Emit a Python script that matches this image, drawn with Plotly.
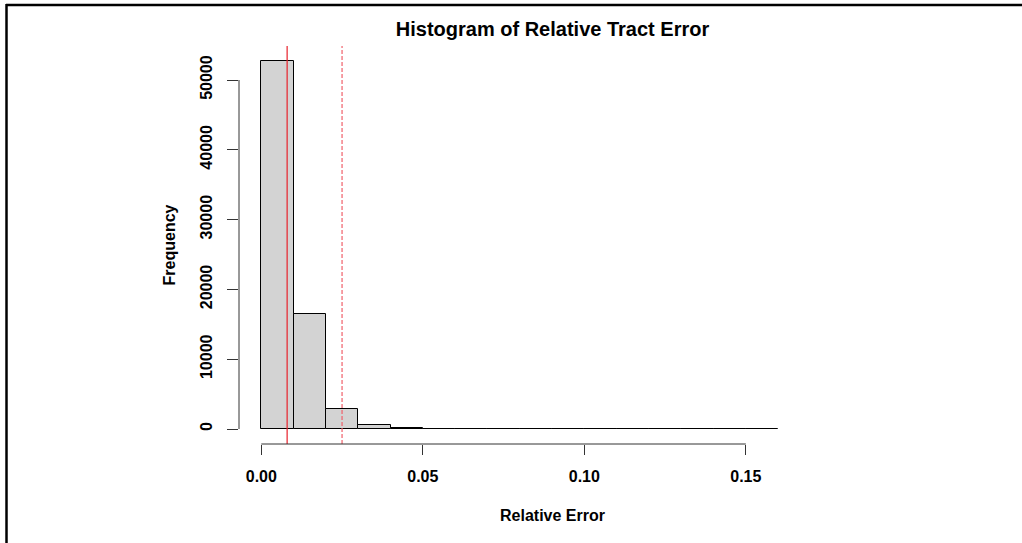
import plotly.graph_objects as go

# ---- data ----
breaks = [round(i * 0.01, 2) for i in range(17)]          # 0.00 .. 0.16
counts = [52720, 16430, 2865, 575, 150, 48, 18, 8, 4, 3, 2, 1, 1, 1, 1, 1]
x_ticks = [0.00, 0.05, 0.10, 0.15]
x_tick_labels = ["0.00", "0.05", "0.10", "0.15"]
y_ticks = [0, 10000, 20000, 30000, 40000, 50000]
y_tick_labels = ["0", "10000", "20000", "30000", "40000", "50000"]
mean_line = 0.008
dashed_line = 0.025

title = "Histogram of Relative Tract Error"
xlab = "Relative Error"
ylab = "Frequency"

# ---- layout constants ----
W, H = 1022, 543
L, R, T, B = 239, 156, 46, 99
pw, ph = W - L - R, H - T - B

centers = [(breaks[i] + breaks[i + 1]) / 2 for i in range(len(counts))]
widths = [breaks[i + 1] - breaks[i] for i in range(len(counts))]

font = dict(family="Liberation Sans, Arial, sans-serif", color="black", weight="bold")

fig = go.Figure()
fig.add_trace(go.Bar(
    x=centers, y=counts, width=widths,
    marker=dict(color="#D3D3D3", line=dict(color="black", width=1)),
    hoverinfo="x+y",
))

shapes = []
# vertical reference lines
shapes.append(dict(type="line", xref="x", yref="paper", x0=mean_line, x1=mean_line,
                   y0=0, y1=1, line=dict(color="#E8202A", width=1.2)))
shapes.append(dict(type="line", xref="x", yref="paper", x0=dashed_line, x1=dashed_line,
                   y0=0, y1=1, line=dict(color="#F0606A", width=1.2, dash="4px,2px")))
# R style axis lines spanning tick range
shapes.append(dict(type="line", xref="x", yref="paper", x0=x_ticks[0], x1=x_ticks[-1],
                   y0=0, y1=0, line=dict(color="#333333", width=1)))
shapes.append(dict(type="line", xref="paper", yref="y", x0=0, x1=0,
                   y0=y_ticks[0], y1=y_ticks[-1], line=dict(color="#333333", width=1)))
# outer frame (top and left edges of the screenshot)
px2x = lambda px: (px - L) / pw
py2y = lambda py: (H - B - py) / ph
shapes.append(dict(type="line", xref="paper", yref="paper", x0=px2x(6), x1=px2x(W + 2),
                   y0=py2y(5), y1=py2y(5), line=dict(color="black", width=2.5)))
shapes.append(dict(type="line", xref="paper", yref="paper", x0=px2x(6.5), x1=px2x(6.5),
                   y0=py2y(4), y1=py2y(H + 2), line=dict(color="black", width=2.5)))

fig.update_layout(
    width=W, height=H,
    margin=dict(l=L, r=R, t=T, b=B),
    paper_bgcolor="white", plot_bgcolor="white",
    showlegend=False,
    bargap=0,
    shapes=shapes,
    title=dict(text=title, x=0.5, xref="paper", xanchor="center",
               y=1 - 29 / H, yref="container", yanchor="middle",
               font=dict(size=20, **font)),
    xaxis=dict(
        range=[-0.0069, 0.1872], showgrid=False, zeroline=False, showline=False,
        tickmode="array", tickvals=x_ticks, ticktext=x_tick_labels,
        ticks="outside", ticklen=10, tickwidth=1, tickcolor="#333333",
        ticklabelstandoff=8,
        tickfont=dict(size=16, **font),
        title=dict(text=xlab, font=dict(size=16, **font), standoff=25),
    ),
    yaxis=dict(
        range=[-2149, 54871], showgrid=False, zeroline=False, showline=False,
        tickmode="array", tickvals=y_ticks, ticktext=y_tick_labels,
        ticks="outside", ticklen=11, tickwidth=1, tickcolor="#333333",
        tickangle=-90, ticklabelstandoff=9,
        tickfont=dict(size=16, **font),
        title=dict(text=ylab, font=dict(size=16, **font), standoff=17),
    ),
)

fig.write_html("out.html", config={"displayModeBar": False},
               post_script="document.body.style.margin='0';document.body.style.overflow='hidden';")
